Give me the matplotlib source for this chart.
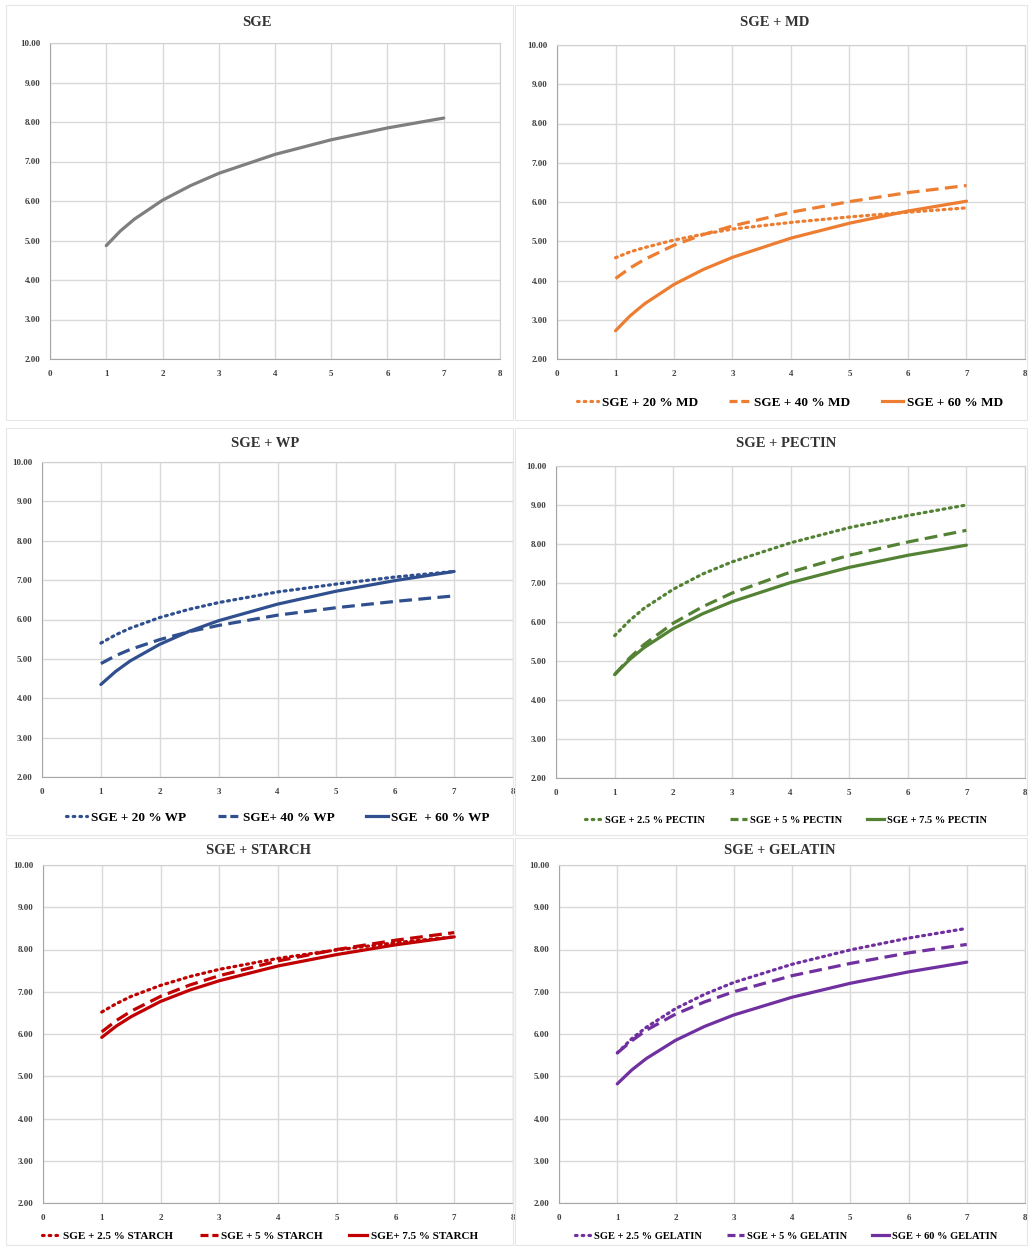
import matplotlib
matplotlib.use("Agg")
import matplotlib.pyplot as plt
from matplotlib.patches import Rectangle
from matplotlib.lines import Line2D

plt.rcParams['font.family'] = ['Liberation Serif', 'DejaVu Serif']
plt.rcParams['font.weight'] = 'bold'

W, H = 1029, 1247

# days (x)
days = [1, 1.25, 1.5, 2, 2.5, 3, 4, 5, 6, 7]

sge = [4.87, 5.24, 5.54, 6.02, 6.39, 6.70, 7.18, 7.55, 7.85, 8.10]

md_20 = [4.58, 4.73, 4.84, 5.03, 5.18, 5.31, 5.48, 5.62, 5.74, 5.85]
md_40 = [4.05, 4.32, 4.54, 4.90, 5.17, 5.39, 5.74, 6.01, 6.24, 6.42]
md_60 = [2.72, 3.10, 3.41, 3.90, 4.28, 4.59, 5.08, 5.46, 5.77, 6.02]

wp_20 = [5.40, 5.61, 5.78, 6.05, 6.26, 6.43, 6.70, 6.90, 7.08, 7.22]
wp_40 = [4.88, 5.08, 5.24, 5.49, 5.69, 5.85, 6.11, 6.30, 6.46, 6.60]
wp_60 = [4.35, 4.68, 4.95, 5.37, 5.70, 5.97, 6.39, 6.72, 6.99, 7.22]

pectin_25 = [5.65, 6.03, 6.35, 6.84, 7.23, 7.54, 8.03, 8.42, 8.73, 9.00]
pectin_5 = [4.65, 5.07, 5.42, 5.97, 6.39, 6.74, 7.28, 7.71, 8.05, 8.35]
pectin_75 = [4.65, 5.03, 5.34, 5.83, 6.21, 6.52, 7.01, 7.40, 7.71, 7.97]

starch_25 = [6.52, 6.72, 6.89, 7.15, 7.36, 7.53, 7.79, 7.99, 8.16, 8.30]
starch_5 = [6.05, 6.32, 6.54, 6.89, 7.16, 7.38, 7.73, 8.00, 8.22, 8.40]
starch_75 = [5.92, 6.19, 6.41, 6.77, 7.04, 7.26, 7.61, 7.88, 8.11, 8.30]

gelatin_25 = [5.55, 5.89, 6.16, 6.60, 6.94, 7.22, 7.65, 7.99, 8.27, 8.50]
gelatin_5 = [5.55, 5.84, 6.09, 6.47, 6.76, 7.00, 7.38, 7.67, 7.92, 8.12]
gelatin_60 = [4.82, 5.15, 5.42, 5.85, 6.18, 6.45, 6.87, 7.20, 7.47, 7.70]

panels = [
    dict(title="SGE", rect=(50, 43, 500, 359), title_xy=(257, 23), color="#7f7f7f",
         series=[(sge, "solid", None)], legend=None),
    dict(title="SGE + MD", rect=(557, 45, 1025, 359), title_xy=(775, 23), color="#ed7d31",
         series=[(md_20, "dot", "SGE + 20 % MD"), (md_40, "dash", "SGE + 40 % MD"),
                 (md_60, "solid", "SGE + 60 % MD")],
         legend=(790, 403, 9.5)),
    dict(title="SGE + WP", rect=(42, 462, 513, 777), title_xy=(265, 443), color="#2f4f8f",
         series=[(wp_20, "dot", "SGE + 20 % WP"), (wp_40, "dash", "SGE+ 40 % WP"),
                 (wp_60, "solid", "SGE  + 60 % WP")],
         legend=(278, 818, 9.5)),
    dict(title="SGE + PECTIN", rect=(556, 466, 1025, 778), title_xy=(786, 443), color="#548235",
         series=[(pectin_25, "dot", "SGE + 2.5 % PECTIN"), (pectin_5, "dash", "SGE + 5 % PECTIN"),
                 (pectin_75, "solid", "SGE + 7.5 % PECTIN")],
         legend=(786, 820, 7.5)),
    dict(title="SGE + STARCH", rect=(43, 865, 513, 1203), title_xy=(258, 851), color="#c00000",
         series=[(starch_25, "dot", "SGE + 2.5 % STARCH"), (starch_5, "dash", "SGE + 5 % STARCH"),
                 (starch_75, "solid", "SGE+ 7.5 % STARCH")],
         legend=(260, 1236, 8)),
    dict(title="SGE + GELATIN", rect=(559, 865, 1025, 1203), title_xy=(780, 851), color="#7030a0",
         series=[(gelatin_25, "dot", "SGE + 2.5 % GELATIN"), (gelatin_5, "dash", "SGE + 5 % GELATIN"),
                 (gelatin_60, "solid", "SGE + 60 % GELATIN")],
         legend=(786, 1236, 7.5)),
]

styles = {"solid": "-", "dot": (0, (0.6, 1.4)), "dash": (0, (4, 2))}
legend_styles = {"solid": "-", "dot": (0, (0.5, 1.6)), "dash": (0, (2.5, 1.2))}

fig = plt.figure(figsize=(W / 100, H / 100), dpi=100)

# chart-area borders
for (l, t, r, b) in [(6, 5, 513, 420), (515, 5, 1027, 420), (6, 428, 513, 835),
                     (515, 428, 1027, 835), (6, 838, 513, 1245), (515, 838, 1027, 1245)]:
    fig.patches.append(Rectangle((l / W, 1 - b / H), (r - l) / W, (b - t) / H,
                                 transform=fig.transFigure, fill=False,
                                 edgecolor="#e6e6e6", lw=0.8))

for p in panels:
    l, t, r, b = p["rect"]
    ax = fig.add_axes([l / W, 1 - b / H, (r - l) / W, (b - t) / H])
    ax.set_xlim(0, 8)
    ax.set_ylim(2, 10)
    ax.set_xticks(range(0, 9))
    ax.set_yticks(range(2, 11))
    ax.set_yticklabels(["%.2f" % v for v in range(2, 11)])
    ax.grid(True, color="#d9d9d9", lw=1.0)
    ax.set_axisbelow(True)
    for s in ax.spines.values():
        s.set_color("#d0d0d0")
    ax.spines["bottom"].set_color("#a6a6a6")
    ax.spines["left"].set_color("#a6a6a6")
    ax.tick_params(length=0, labelsize=6.5, colors="#404040")
    ax.tick_params(axis="x", pad=8)
    ax.tick_params(axis="y", pad=7)
    for lab in ax.get_xticklabels() + ax.get_yticklabels():
        lab.set_fontweight("bold")

    handles = []
    for vals, st, name in p["series"]:
        cap = "round" if st == "dot" else "butt"
        ax.plot(days, vals, color=p["color"], lw=2.3, ls=styles[st],
                dash_capstyle=cap, solid_capstyle="round", solid_joinstyle="round")
        handles.append(Line2D([], [], color=p["color"], lw=2.3, ls=legend_styles[st],
                              dash_capstyle=cap))
    tx, ty = p["title_xy"]
    fig.text(tx / W, 1 - ty / H, p["title"], ha="center", va="center",
             fontsize=10.5, fontweight="bold", color="#333333")

    if p["legend"]:
        lx, ly, fs = p["legend"]
        fig.legend(handles, [s[2] for s in p["series"]], loc="center",
                   bbox_to_anchor=(lx / W, 1 - ly / H), ncol=3, frameon=False,
                   handlelength=1.6, handletextpad=0.3,
                   columnspacing=2.4, prop={"weight": "bold", "size": fs})

fig.savefig("out.png", dpi=100, facecolor="white")
